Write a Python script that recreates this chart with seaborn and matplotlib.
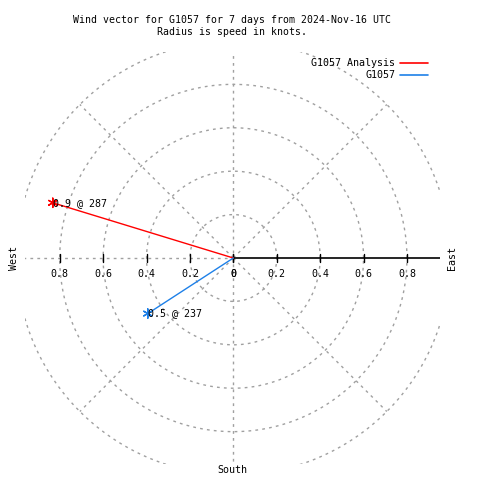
import numpy as np
import pandas as pd
import matplotlib
matplotlib.use('Agg')
import matplotlib.pyplot as plt
import seaborn as sns

# data
series = ['G1057 Analysis', 'G1057']
speeds = [0.87, 0.47]          # knots (radius)
directions = [287, 237]        # compass degrees
colors = ['#ff0000', '#1e80e8']
ring_radii = [0.2, 0.4, 0.6, 0.8, 1.0]
tick_vals = [0.0, 0.2, 0.4, 0.6, 0.8]
title = 'Wind vector for G1057 for 7 days from 2024-Nov-16 UTC\nRadius is speed in knots.'

sns.set_theme(style='white')
plt.rcParams['font.family'] = ['DejaVu Sans Mono']
plt.rcParams['text.color'] = 'black'
FS = 7.2

# vectors: origin -> tip, compass angle (0 = north, clockwise)
rows = []
for name, s, d in zip(series, speeds, directions):
    rad = np.deg2rad(d)
    rows.append({'series': name, 'x': 0.0, 'y': 0.0, 'order': 0})
    rows.append({'series': name, 'x': s * np.sin(rad), 'y': s * np.cos(rad), 'order': 1})
df = pd.DataFrame(rows)
tips = df[df['order'] == 1]

fig = plt.figure(figsize=(4.8, 4.8), dpi=100)
ax = fig.add_axes([25 / 480, 16 / 480, 414.5 / 480, 412 / 480])
ax.set_xlim(-0.96, 0.95)
ax.set_ylim(-0.949, 0.949)

grid_kw = dict(color='#a0a0a0', lw=1.0, ls=(0, (2, 3)), zorder=1)
th = np.linspace(0, 2 * np.pi, 400)
for r in ring_radii:
    ax.plot(r * np.cos(th), r * np.sin(th), **grid_kw)
# radial grid lines
ax.plot([-1, 0], [0, 0], **grid_kw)
ax.plot([0, 0], [-1, 1], **grid_kw)
for a in [45, 135, 225, 315]:
    ax.plot([0, np.cos(np.deg2rad(a))], [0, np.sin(np.deg2rad(a))], **grid_kw)

# black axis to the east with ticks
ax.plot([0, 1], [0, 0], color='black', lw=1.2, zorder=2)
for t in tick_vals:
    for sgn in (1, -1):
        ax.plot([sgn * t, sgn * t], [-0.018, 0.018], color='black', lw=1.0, zorder=2)
        lab = '0' if t == 0 else f'{t:g}'
        ax.text(sgn * t, -0.074, lab, ha='center', va='center', fontsize=FS)

palette = dict(zip(series, colors))
sns.lineplot(data=df, x='x', y='y', hue='series', units='series', estimator=None,
             sort=False, palette=palette, lw=1.0, ax=ax, legend=False, zorder=3)
sns.scatterplot(data=tips, x='x', y='y', hue='series', palette=palette,
                marker=(6, 2, 0), s=45, linewidth=1.0, ax=ax, legend=False, zorder=4)
for s, d, (_, r) in zip(speeds, directions, tips.iterrows()):
    ax.text(r['x'], r['y'], f'{s:.1f} @ {d}', ha='left', va='center', fontsize=FS, zorder=5)
ax.set_xlabel('')
ax.set_ylabel('')
ax.axis('off')

handles = [plt.Line2D([], [], color=c, lw=1.2) for c in colors]
fig.legend(handles, series, loc='upper right', bbox_to_anchor=(432 / 480, 1 - 54 / 480),
           frameon=False, markerfirst=False, fontsize=FS, handlelength=2.8,
           handletextpad=0.5, labelspacing=0.25, borderaxespad=0)

fig.text(232 / 480, 1 - 26 / 480, title, ha='center', va='center', fontsize=7.15,
         linespacing=1.3)
fig.text(14 / 480, 1 - 258 / 480, 'West', rotation=90, ha='center', va='center', fontsize=FS)
fig.text(452 / 480, 1 - 258 / 480, 'East', rotation=90, ha='center', va='center', fontsize=FS)
fig.text(232 / 480, 1 - 470 / 480, 'South', ha='center', va='center', fontsize=FS)

fig.savefig('out.png', dpi=100, facecolor='white')
